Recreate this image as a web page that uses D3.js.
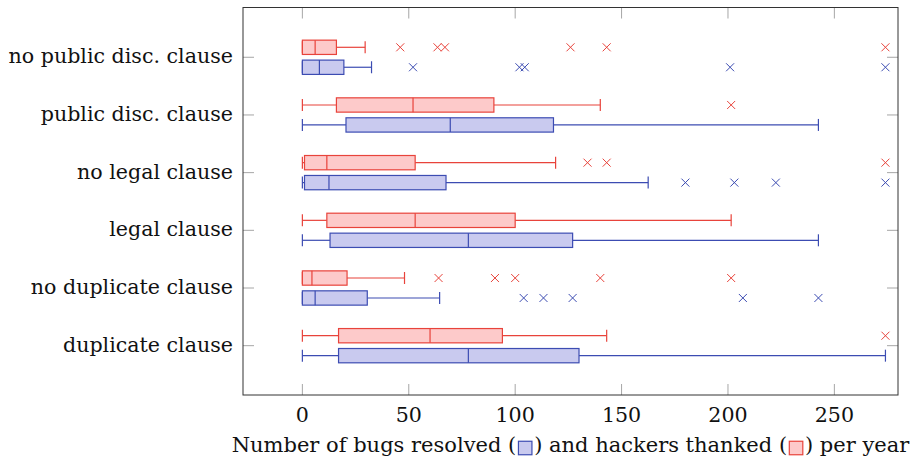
<!DOCTYPE html>
<html lang="en">
<head>
  <meta charset="UTF-8">
  <title>Bugs resolved and hackers thanked</title>
  <style>
    body {
      margin: 0;
      background: #fff;
    }
    svg {
      display: block;
    }
    text {
      font-family: "DejaVu Serif", serif;
      font-size: 20.6px;
      fill: #111;
    }
    .xtitle text {
      font-size: 21px;
    }
  </style>
</head>
<body>
  <script src="https://d3js.org/d3.v7.min.js"></script>
  <script>
    // bottom to top
    const categories = ['duplicate clause', 'no duplicate clause', 'legal clause',
      'no legal clause', 'public disc. clause', 'no public disc. clause'];

    // [lower whisker, lower quartile, median, upper quartile, upper whisker]
    const resolvedStats = [
      [0, 17, 78, 130, 274],
      [0, 0, 6, 30.5, 64.5],
      [0, 13, 78, 127, 242.5],
      [0, 1, 12.5, 67.5, 162.5],
      [0, 20.5, 69.5, 118, 242.5],
      [0, 0, 8, 19.5, 32.5]
    ];
    const resolvedOutliers = [
      [],
      [104, 113.3, 127, 207, 242.5],
      [],
      [180, 203, 222.5, 274],
      [],
      [52, 102, 104.5, 201, 274]
    ];

    const thankedStats = [
      [0, 17, 60, 94, 143],
      [0, 0, 4.5, 21, 48],
      [0, 11.5, 53, 100, 201.5],
      [0, 1, 11.5, 53, 119],
      [0, 16, 52, 90, 140],
      [0, 0, 6, 16, 29.5]
    ];
    const thankedOutliers = [
      [274],
      [64, 90.5, 100, 140, 201.5],
      [],
      [134, 143, 274],
      [201.5],
      [46, 63.5, 67, 126, 143, 274]
    ];

    const xTicks = [0, 50, 100, 150, 200, 250];
    const xLabelParts = ['Number of bugs resolved (', ') and hackers thanked (', ') per year'];

    const width = 917;
    const height = 461;
    const margin = { top: 7.5, right: 19, bottom: 66, left: 243 };

    const series = [
      { stats: resolvedStats, outliers: resolvedOutliers, shift: -0.173, stroke: '#3c4cb2', fill: '#c9caef' },
      { stats: thankedStats, outliers: thankedOutliers, shift: 0.173, stroke: '#e8433b', fill: '#fdcaca' }
    ];

    const svg = d3.select('body')
      .append('svg')
      .attr('width', width)
      .attr('height', height);

    const x = d3.scaleLinear()
      .domain([-27.9, 279.9])
      .range([margin.left, width - margin.right]);

    const y = d3.scaleLinear()
      .domain([0.145, 6.863])
      .range([height - margin.bottom, margin.top]);

    const boxHalf = 0.124;
    const capHalf = 0.104;

    // ticks (inside, on all four sides)
    const tickLen = 11;
    const ticks = svg.append('g')
      .attr('stroke', '#a6a6a6')
      .attr('stroke-width', 1);

    xTicks.forEach(t => {
      ticks.append('line')
        .attr('x1', x(t)).attr('x2', x(t))
        .attr('y1', y.range()[0]).attr('y2', y.range()[0] - tickLen);
      ticks.append('line')
        .attr('x1', x(t)).attr('x2', x(t))
        .attr('y1', y.range()[1]).attr('y2', y.range()[1] + tickLen);
    });

    categories.forEach((c, i) => {
      const yy = y(i + 1);
      ticks.append('line')
        .attr('x1', x.range()[0]).attr('x2', x.range()[0] + tickLen)
        .attr('y1', yy).attr('y2', yy);
      ticks.append('line')
        .attr('x1', x.range()[1]).attr('x2', x.range()[1] - tickLen)
        .attr('y1', yy).attr('y2', yy);
    });

    // boxes
    series.forEach(s => {
      const g = svg.append('g')
        .attr('stroke', s.stroke)
        .attr('stroke-width', 1.2);

      s.stats.forEach((d, i) => {
        const [lo, q1, med, q3, hi] = d;
        const cy = i + 1 + s.shift;

        g.append('line')
          .attr('x1', x(lo)).attr('x2', x(q1))
          .attr('y1', y(cy)).attr('y2', y(cy));
        g.append('line')
          .attr('x1', x(q3)).attr('x2', x(hi))
          .attr('y1', y(cy)).attr('y2', y(cy));

        [lo, hi].forEach(v => {
          g.append('line')
            .attr('x1', x(v)).attr('x2', x(v))
            .attr('y1', y(cy + capHalf)).attr('y2', y(cy - capHalf));
        });

        g.append('rect')
          .attr('x', x(q1))
          .attr('y', y(cy + boxHalf))
          .attr('width', x(q3) - x(q1))
          .attr('height', y(cy - boxHalf) - y(cy + boxHalf))
          .attr('fill', s.fill);

        g.append('line')
          .attr('x1', x(med)).attr('x2', x(med))
          .attr('y1', y(cy + boxHalf)).attr('y2', y(cy - boxHalf));

        s.outliers[i].forEach(v => {
          const px = x(v);
          const py = y(cy);
          const r = 4;
          g.append('path')
            .attr('stroke-width', 1)
            .attr('d', `M${px - r},${py - r}L${px + r},${py + r}M${px - r},${py + r}L${px + r},${py - r}`);
        });
      });
    });

    // frame
    svg.append('rect')
      .attr('x', x.range()[0])
      .attr('y', y.range()[1])
      .attr('width', x.range()[1] - x.range()[0])
      .attr('height', y.range()[0] - y.range()[1])
      .attr('fill', 'none')
      .attr('stroke', '#333')
      .attr('stroke-width', 1);

    // tick labels
    svg.selectAll('.xlab')
      .data(xTicks)
      .enter().append('text')
        .attr('class', 'xlab')
        .attr('x', d => x(d))
        .attr('y', y.range()[0] + 26.5)
        .attr('text-anchor', 'middle')
        .text(d => d);

    svg.selectAll('.ylab')
      .data(categories)
      .enter().append('text')
        .attr('class', 'ylab')
        .attr('x', x.range()[0] - 10)
        .attr('y', (d, i) => y(i + 1))
        .attr('dy', '0.29em')
        .attr('text-anchor', 'end')
        .text(d => d);

    // axis label with little legend boxes
    const label = svg.append('g').attr('class', 'xtitle');
    const baseline = 452;
    const sq = 13.5;
    const gap = 2.2;
    const parts = xLabelParts.map(t => label.append('text').attr('y', baseline).text(t));
    const widths = parts.map(p => p.node().getComputedTextLength());
    const total = d3.sum(widths) + 2 * (sq + 2 * gap);
    let cx = (x.range()[0] + x.range()[1]) / 2 - total / 2;

    parts.forEach((p, i) => {
      p.attr('x', cx);
      cx += widths[i];
      if (i < 2) {
        const s = series[i];
        label.append('rect')
          .attr('x', cx + gap)
          .attr('y', baseline - 4 - sq / 2)
          .attr('width', sq)
          .attr('height', sq)
          .attr('fill', s.fill)
          .attr('stroke', s.stroke)
          .attr('stroke-width', 1.2);
        cx += sq + 2 * gap;
      }
    });
  </script>
</body>
</html>
